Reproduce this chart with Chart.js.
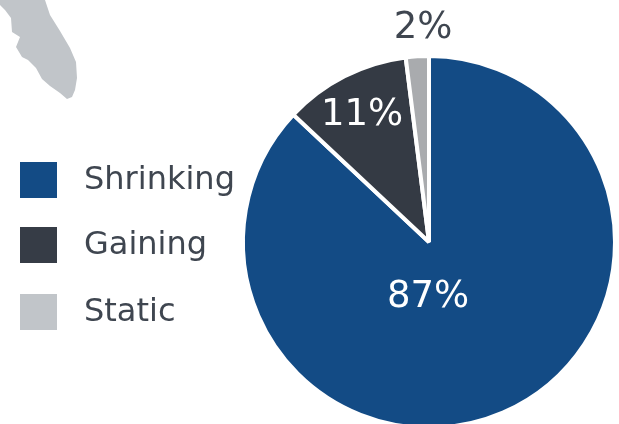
<!DOCTYPE html>
<html><head><meta charset="utf-8">
<style>html,body{margin:0;padding:0;background:#fff;overflow:hidden;width:619px;height:424px}
#w{position:relative;width:619px;height:424px;overflow:hidden}
canvas{display:block}</style>
<script src="https://cdn.jsdelivr.net/npm/chart.js@4/dist/chart.umd.min.js"></script>
</head><body><div id="w"><canvas id="c" width="619" height="440"></canvas></div>
<script>
const categories = ['Shrinking','Gaining','Static'];
const values = [87,11,2];
const sliceColors = ['#134b85','#343a44','#a9abae'];
const legendColors = ['#134b85','#363c46','#c1c5c9'];
const labelColors = ['#fff','#fff','#3f4650'];
const labelOffsets = [[-1,55],[-67,-127],[-6,-214]];
const legendRows = [180,245,312];
const floridaOutline = [[0,0],[45,0],[50,15],[60,31],[70,48],[76,62],[77,78],[75,90],[72,97],[67,99],[60,93],[50,86],[42,79],[36,68],[28,60],[22,57],[16,47],[20,37],[12,32],[11,18],[5,10],[0,5]];
const FONT = '32px "DejaVu Sans"';
const LABEL_FONT = '37px "DejaVu Sans"';
const decor = {
  id:'decor',
  beforeDraw(ch){
    const x = ch.ctx; x.save();
    x.fillStyle='#c1c5c9'; x.beginPath();
    floridaOutline.forEach((p,i)=> i? x.lineTo(p[0],p[1]) : x.moveTo(p[0],p[1]));
    x.closePath(); x.fill();
    x.font=FONT; x.textBaseline='middle'; x.textAlign='left';
    categories.forEach((c,i)=>{
      x.fillStyle=legendColors[i]; x.fillRect(20,legendRows[i]-18,37,36);
      x.fillStyle='#3f4650'; x.fillText(c,84,legendRows[i]+1);
    });
    x.restore();
  },
  afterDraw(ch){
    const x = ch.ctx; const arcs = ch.getDatasetMeta(0).data;
    x.save(); x.font=LABEL_FONT; x.textAlign='center'; x.textBaseline='middle';
    arcs.forEach((a,i)=>{
      x.fillStyle=labelColors[i];
      x.fillText(values[i]+'%',a.x+labelOffsets[i][0],a.y+labelOffsets[i][1]);
    });
    x.restore();
  }
};
new Chart(document.getElementById('c'),{
  type:'pie',
  data:{labels:categories,datasets:[{data:values,backgroundColor:sliceColors,borderColor:'#fff',borderWidth:4,borderAlign:'center'}]},
  options:{responsive:false,animation:false,devicePixelRatio:1,
    layout:{padding:{left:241,right:2,top:54,bottom:10}},
    plugins:{legend:{display:false},tooltip:{enabled:false}}},
  plugins:[decor]
});
</script>
</body></html>
